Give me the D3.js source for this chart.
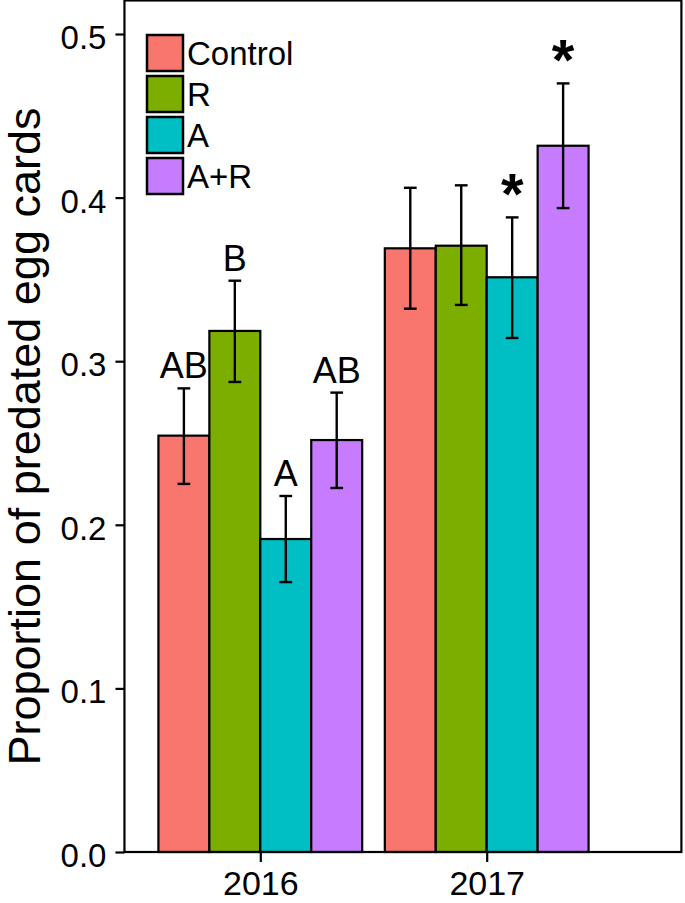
<!DOCTYPE html>
<html>
<head>
<meta charset="utf-8">
<script src="https://cdn.jsdelivr.net/npm/d3@7"></script>
<style>
  html, body { margin: 0; padding: 0; background: #fff; }
  svg { display: block; font-family: "Liberation Sans", Arial, Helvetica, sans-serif; }
</style>
</head>
<body>
<svg id="chart" width="685" height="903"></svg>
<script>
// ---- data ----
const years = ["2016", "2017"];
const treatments = ["Control", "R", "A", "A+R"];
const colors = ["#F8766D", "#7CAE00", "#00BFC4", "#C77CFF"];
const means2016 = [0.2545, 0.3185, 0.1913, 0.2518];
const lower2016 = [0.2250, 0.2873, 0.1650, 0.2225];
const upper2016 = [0.2834, 0.3492, 0.2176, 0.2808];
const means2017 = [0.3690, 0.3706, 0.3513, 0.4317];
const lower2017 = [0.3321, 0.3344, 0.3142, 0.3936];
const upper2017 = [0.4060, 0.4075, 0.3879, 0.4698];
const labels2016 = ["AB", "B", "A", "AB"];
const labels2017 = ["", "", "*", "*"];
const yTicks = [0.0, 0.1, 0.2, 0.3, 0.4, 0.5];
const yTitle = "Proportion of predated egg cards";

const rows = [];
[[means2016, lower2016, upper2016, labels2016], [means2017, lower2017, upper2017, labels2017]].forEach((s, gi) => {
  treatments.forEach((t, ti) => {
    rows.push({year: years[gi], gi: gi + 1, t, ti, mean: s[0][ti], lo: s[1][ti], hi: s[2][ti], label: s[3][ti]});
  });
});

// ---- scales ----
const svg = d3.select("#chart");
const y = d3.scaleLinear().domain([0, 0.5]).range([852, 34]);
const x = d3.scaleLinear().domain([1, 2]).range([260.3, 486.7]);
const inner = d3.scaleBand().domain(treatments).range([-0.45, 0.45]).padding(0);
const color = d3.scaleOrdinal().domain(treatments).range(colors);
const xLeft = x(0.4), xRight = x(2.86), yTop = y(0.5205), yBottom = y(0);
const bw = x(1 + inner.bandwidth()) - x(1);

// ---- bars ----
const g = svg.append("g");
g.selectAll("rect.bar").data(rows).enter().append("rect")
  .attr("class", "bar")
  .attr("x", d => x(d.gi + inner(d.t)))
  .attr("y", d => y(d.mean))
  .attr("width", bw)
  .attr("height", d => y(0) - y(d.mean))
  .attr("fill", d => color(d.t))
  .attr("stroke", "#000")
  .attr("stroke-width", 2.2);

// ---- error bars ----
const cx = d => x(d.gi + inner(d.t) + inner.bandwidth() / 2);
const capHalf = bw * 0.125;
const eb = g.selectAll("g.eb").data(rows).enter().append("g").attr("stroke", "#000").attr("stroke-width", 2.4);
eb.append("line").attr("x1", cx).attr("x2", cx).attr("y1", d => y(d.lo)).attr("y2", d => y(d.hi));
eb.append("line").attr("x1", d => cx(d) - capHalf).attr("x2", d => cx(d) + capHalf).attr("y1", d => y(d.hi)).attr("y2", d => y(d.hi));
eb.append("line").attr("x1", d => cx(d) - capHalf).attr("x2", d => cx(d) + capHalf).attr("y1", d => y(d.lo)).attr("y2", d => y(d.lo));

// ---- annotations ----
g.selectAll("text.ann").data(rows.filter(d => d.label && d.label !== "*")).enter().append("text")
  .attr("class", "ann")
  .attr("x", cx).attr("y", d => y(d.hi) - 10)
  .attr("text-anchor", "middle").attr("font-size", 36).attr("fill", "#000")
  .text(d => d.label);
g.selectAll("text.star").data(rows.filter(d => d.label === "*")).enter().append("text")
  .attr("class", "star")
  .attr("x", cx).attr("y", d => y(d.hi) - 3)
  .attr("text-anchor", "middle").attr("font-size", 58).attr("font-weight", "bold").attr("fill", "#000")
  .text(d => d.label);

// ---- panel frame ----
svg.append("rect").attr("x", xLeft).attr("y", yTop).attr("width", xRight - xLeft).attr("height", yBottom - yTop)
  .attr("fill", "none").attr("stroke", "#000").attr("stroke-width", 2.2);

// ---- y axis ----
const yAxis = svg.append("g").attr("transform", `translate(${xLeft},0)`)
  .call(d3.axisLeft(y).tickValues(yTicks).tickFormat(d3.format(".1f")).tickSize(9).tickPadding(9));
yAxis.select(".domain").remove();
yAxis.selectAll(".tick line").attr("stroke", "#000").attr("stroke-width", 2.2);
yAxis.selectAll(".tick text").attr("font-size", 33).attr("dy", "0.44em").attr("fill", "#000")
  .attr("font-family", "Liberation Sans, Arial, sans-serif");

// ---- x axis ----
const xAxis = svg.append("g").attr("transform", `translate(0,${yBottom})`)
  .call(d3.axisBottom(x).tickValues([1, 2]).tickFormat(d => years[d - 1]).tickSize(10).tickPadding(9));
xAxis.select(".domain").remove();
xAxis.selectAll(".tick line").attr("stroke", "#000").attr("stroke-width", 2.2);
xAxis.selectAll(".tick text").attr("font-size", 34).attr("fill", "#000")
  .attr("font-family", "Liberation Sans, Arial, sans-serif");

// ---- y title ----
svg.append("text")
  .attr("transform", `translate(40,${(770 + 103) / 2}) rotate(-90)`)
  .attr("text-anchor", "middle").attr("font-size", 45).attr("fill", "#000")
  .text(yTitle);

// ---- legend ----
const leg = svg.append("g").attr("transform", "translate(147,35)");
const li = leg.selectAll("g").data(treatments).enter().append("g")
  .attr("transform", (d, i) => `translate(0,${i * 41})`);
li.append("rect").attr("width", 36).attr("height", 36).attr("fill", d => color(d))
  .attr("stroke", "#000").attr("stroke-width", 2.5);
li.append("text").attr("x", 40).attr("y", 18).attr("dy", "0.35em")
  .attr("font-size", 33).attr("fill", "#000").text(d => d);
</script>
</body>
</html>
